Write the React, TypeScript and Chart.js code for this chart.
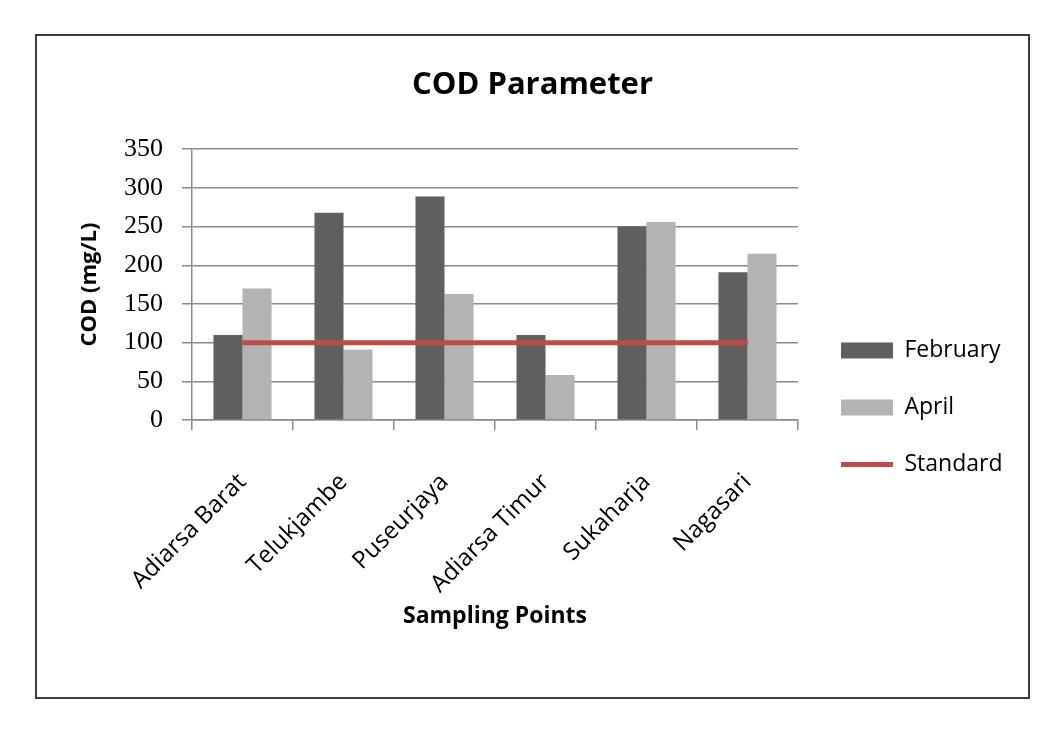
import React, { useEffect, useRef } from "react";
import { Chart, registerables } from "chart.js";

Chart.register(...registerables);

const sites = [
  "Adiarsa Barat",
  "Telukjambe",
  "Puseurjaya",
  "Adiarsa Timur",
  "Sukaharja",
  "Nagasari",
];
const february = [110, 268, 289, 110, 250, 191];
const april = [170, 91, 163, 58, 256, 215];
const standard = [100, 100, 100, 100, 100, 100];

const SANS = "'Open Sans', Lato, 'Noto Sans', sans-serif";
const SERIF = "'Liberation Serif', 'DejaVu Serif', serif";
const GRID = "#8a8a8a";

// Places the legend block beside the plot, lower down next to the axis labels.
const legendPlacement = {
  id: "legendPlacement",
  afterLayout(chart: any) {
    const lg = chart.legend;
    if (!lg) return;
    lg.left = 770;
    lg.right = 989;
    lg.width = lg.right - lg.left;
    lg.top = 269;
    lg.bottom = 620;
    lg.height = lg.bottom - lg.top;
  },
};

export default function App() {
  const canvasRef = useRef<HTMLCanvasElement | null>(null);

  useEffect(() => {
    const canvas = canvasRef.current;
    if (!canvas) return;
    const chart = new Chart(canvas, {
      type: "bar",
      data: {
        labels: sites,
        datasets: [
          {
            label: "February",
            data: february,
            backgroundColor: "#5f5f5f",
            borderWidth: 0,
            categoryPercentage: 0.575,
            barPercentage: 1,
            pointStyle: "rect",
          },
          {
            label: "April",
            data: april,
            backgroundColor: "#b3b3b3",
            borderWidth: 0,
            categoryPercentage: 0.575,
            barPercentage: 1,
            pointStyle: "rect",
          },
          {
            type: "line",
            label: "Standard",
            data: standard,
            borderColor: "#bf4b47",
            backgroundColor: "#bf4b47",
            borderWidth: 5,
            pointRadius: 0,
            pointStyle: "line",
            order: -1,
          } as any,
        ],
      },
      options: {
        responsive: false,
        animation: false,
        layout: { padding: 0 },
        plugins: {
          tooltip: { enabled: false },
          title: {
            display: true,
            text: "COD Parameter",
            color: "#000",
            font: { family: SANS, size: 31, weight: "bold" },
            padding: { top: 31, bottom: 45 },
          },
          legend: {
            position: "right",
            align: "start",
            maxWidth: 100,
            labels: {
              usePointStyle: true,
              pointStyleWidth: 52,
              boxHeight: 16,
              padding: 34,
              color: "#000",
              font: { family: SANS, size: 23 },
              sort: (a: any, b: any) => a.datasetIndex - b.datasetIndex,
            },
          },
        },
        scales: {
          x: {
            grid: {
              display: true,
              drawOnChartArea: false,
              drawTicks: true,
              tickLength: 10,
              offset: true,
              color: GRID,
              lineWidth: 1.5,
            },
            border: { display: true, color: GRID, width: 1.5 },
            ticks: {
              autoSkip: false,
              minRotation: 45,
              maxRotation: 45,
              color: "#000",
              padding: 38,
              font: { family: SANS, size: 24 },
            },
            title: {
              display: true,
              text: "Sampling Points",
              color: "#000",
              font: { family: SANS, size: 23, weight: "bold" },
              padding: { top: 0, bottom: 67 },
            },
            afterFit: (s: any) => {
              s.height = 277;
            },
          },
          y: {
            min: 0,
            max: 350,
            ticks: {
              stepSize: 50,
              color: "#000",
              padding: 19,
              font: { family: SERIF, size: 26 },
            },
            grid: {
              color: GRID,
              lineWidth: 1.5,
              tickLength: 10,
            },
            border: { display: true, color: GRID, width: 1.5 },
            title: {
              display: true,
              text: "COD (mg/L)",
              color: "#000",
              font: { family: SANS, size: 22, weight: "bold" },
              padding: { top: 40, bottom: 0 },
            },
            afterFit: (s: any) => {
              s.width = 155;
            },
          },
          gap: {
            type: "linear",
            position: "right",
            display: true,
            grid: { display: false },
            border: { display: false },
            ticks: { display: false },
            afterFit: (s: any) => {
              s.width = 130;
            },
          },
        },
      } as any,
      plugins: [legendPlacement],
    });
    return () => chart.destroy();
  }, []);

  return (
    <div
      style={{
        position: "absolute",
        left: 35,
        top: 34,
        width: 995,
        height: 665,
        boxSizing: "border-box",
        border: "2px solid #3c3c3c",
        background: "#fff",
      }}
    >
      <canvas ref={canvasRef} width={991} height={661} style={{ display: "block" }} />
    </div>
  );
}
